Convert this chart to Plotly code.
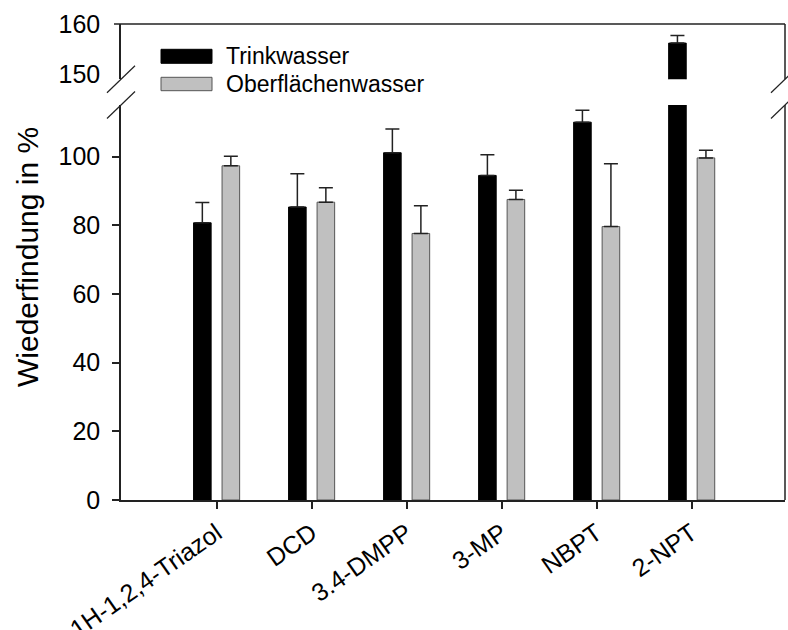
import plotly.graph_objects as go

# Wiederfindung (%) je Substanz, Mittelwert und Standardabweichung
substanzen = ["1H-1,2,4-Triazol", "DCD", "3.4-DMPP", "3-MP", "NBPT", "2-NPT"]
trink_werte = [80.7, 85.3, 101.1, 94.5, 110.0, 156.2]
trink_sd = [5.9, 9.7, 6.9, 6.0, 3.5, 1.5]
ober_werte = [97.3, 86.7, 77.6, 87.5, 79.6, 99.6]
ober_sd = [2.8, 4.2, 8.1, 2.7, 18.3, 2.2]
serien = ["Trinkwasser", "Oberflächenwasser"]

FONT = "Liberation Sans, Arial, sans-serif"
W, H = 788, 630
L, R, T, B = 121, 3, 24, 130
PW, PH = W - L - R, H - T - B

# Achsenbruch: unterer Bereich 0-115, oberer Bereich 149-160
low_range = [0, 115]
high_range = [149, 160]
low_top = 395 / PH
high_bottom = (PH - 55.3) / PH

x_pos = list(range(len(substanzen)))
bar_w = 0.185
shift = 0.15

fig = go.Figure()
for xa, ya in (("x", "y"), ("x2", "y2")):
    fig.add_trace(go.Bar(
        x=x_pos, y=trink_werte, name=serien[0], xaxis=xa, yaxis=ya,
        width=bar_w, offset=-shift - bar_w / 2,
        marker=dict(color="#000000", line=dict(color="#000000", width=1)),
        error_y=dict(type="data", array=trink_sd, arrayminus=[0] * len(trink_sd),
                     symmetric=False, color="#222222", thickness=1.5, width=7),
        showlegend=False,
    ))
    fig.add_trace(go.Bar(
        x=x_pos, y=ober_werte, name=serien[1], xaxis=xa, yaxis=ya,
        width=bar_w, offset=shift - bar_w / 2,
        marker=dict(color="#c0c0c0", line=dict(color="#555555", width=1)),
        error_y=dict(type="data", array=ober_sd, arrayminus=[0] * len(ober_sd),
                     symmetric=False, color="#222222", thickness=1.5, width=7),
        showlegend=False,
    ))

axis_line = dict(showline=True, linecolor="#222222", linewidth=1.5,
                 showgrid=False, zeroline=False, automargin=False)
y_tick_font = dict(family=FONT, size=25, color="#000000")
x_tick_font = dict(family=FONT, size=25, color="#000000")

fig.update_layout(
    width=W, height=H,
    margin=dict(l=L, r=R, t=T, b=B, pad=0, autoexpand=False),
    paper_bgcolor="white", plot_bgcolor="white",
    barmode="overlay",
    font=dict(family=FONT, color="#000000"),
    xaxis=dict(domain=[0, 1], anchor="y", range=[-1.006, 5.982],
               tickvals=x_pos, ticktext=substanzen, tickangle=-35,
               ticks="outside", ticklen=7, tickwidth=1.5, tickcolor="#222222",
               tickfont=x_tick_font, **axis_line),
    xaxis2=dict(domain=[0, 1], anchor="y2", matches="x", visible=False),
    yaxis=dict(domain=[0, low_top], range=low_range, anchor="x",
               tickvals=[0, 20, 40, 60, 80, 100],
               ticks="outside", ticklen=7, tickwidth=1.5, tickcolor="#222222",
               ticklabelstandoff=7, tickfont=y_tick_font, **axis_line),
    yaxis2=dict(domain=[high_bottom, 1], range=high_range, anchor="x2",
                tickvals=[150, 160],
                ticks="outside", ticklen=7, tickcolor="rgba(0,0,0,0)",
                ticklabelstandoff=7, tickfont=y_tick_font, **axis_line),
)

line_style = dict(color="#222222", width=1.5)
shapes = [
    # Rahmen oben mit Tick bei 160
    dict(type="line", xref="paper", yref="paper", xsizemode="pixel", xanchor=0,
         x0=-7, x1=PW, y0=1, y1=1, line=line_style),
    # rechte Rahmenlinien beider Bereiche
    dict(type="line", xref="paper", yref="paper", x0=1, x1=1,
         y0=high_bottom, y1=1, line=line_style),
    dict(type="line", xref="paper", yref="paper", x0=1, x1=1,
         y0=0, y1=low_top, line=line_style),
]
# Bruchmarkierungen an beiden Seiten
for xa in (0, 1):
    for ya in (low_top, high_bottom):
        shapes.append(dict(type="line", xref="paper", yref="paper",
                           xsizemode="pixel", xanchor=xa, x0=-14, x1=14,
                           ysizemode="pixel", yanchor=ya, y0=-13.5, y1=13.5,
                           line=dict(color="#222222", width=1.2)))

# Legende
def px_x(px):
    return (px - L) / PW


def px_y(py):
    return (H - B - py) / PH


legend_items = [
    (serien[0], "#000000", "#000000", 49.3, 63.3, 56.3),
    (serien[1], "#c0c0c0", "#555555", 77.3, 90.7, 84.0),
]
annotations = []
for name, fill, edge, top, bottom, mid in legend_items:
    shapes.append(dict(type="rect", xref="paper", yref="paper",
                       x0=px_x(161), x1=px_x(212), y0=px_y(bottom), y1=px_y(top),
                       fillcolor=fill, line=dict(color=edge, width=1)))
    annotations.append(dict(text=name, xref="paper", yref="paper",
                            x=px_x(224), y=px_y(mid), xanchor="left", yanchor="middle",
                            showarrow=False,
                            font=dict(family=FONT, size=23, color="#000000")))

annotations.append(dict(text="Wiederfindung in %", xref="paper", yref="paper",
                        x=px_x(27), y=px_y(257), textangle=-90,
                        xanchor="center", yanchor="middle", showarrow=False,
                        font=dict(family=FONT, size=30, color="#000000")))

fig.update_layout(shapes=shapes, annotations=annotations)
fig.write_html("out.html")
